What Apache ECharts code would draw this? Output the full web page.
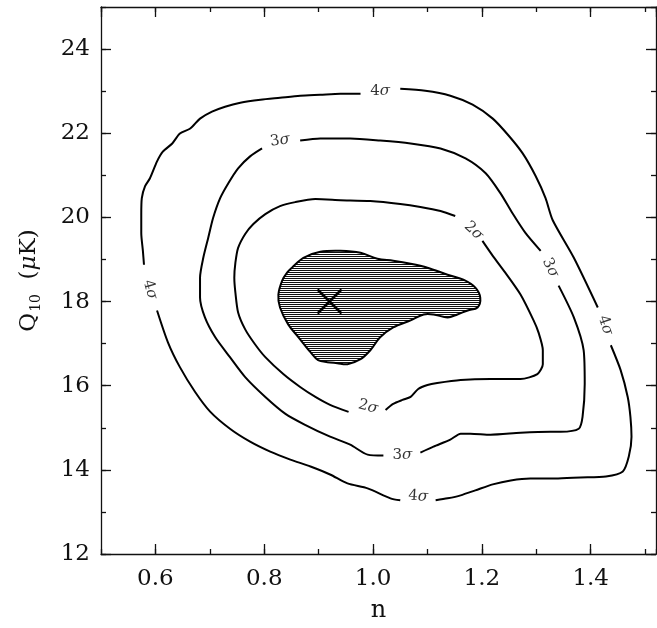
<!DOCTYPE html>
<html>
<head>
<meta charset="utf-8">
<script src="https://cdn.jsdelivr.net/npm/echarts/dist/echarts.min.js"></script>
<style>
  html, body { margin: 0; padding: 0; background: #fff; }
  #chart { width: 657px; height: 628px; }
</style>
</head>
<body>
<div id="chart"></div>
<script>
// Likelihood contours in the (n, Q10) plane.
// Each contour is split into pieces where its sigma label sits.

// 4-sigma contour pieces [n, Q10 (uK)]
const sigma4Top = [[1.050,23.056],[1.096,23.009],[1.142,22.891],[1.183,22.678],[1.220,22.347],[1.249,21.946],[1.275,21.520],[1.299,20.977],[1.317,20.457],[1.330,19.938],[1.369,19.040],[1.413,17.859]];
const sigma4Right = [[1.437,16.961],[1.455,16.370],[1.468,15.733],[1.473,15.260],[1.475,14.788],[1.470,14.315],[1.459,13.961],[1.428,13.843],[1.381,13.819],[1.335,13.795],[1.289,13.795],[1.253,13.748],[1.220,13.654],[1.188,13.512],[1.161,13.394],[1.137,13.323],[1.115,13.276]];
const sigma4Bottom = [[1.050,13.276],[1.032,13.323],[0.990,13.559],[0.953,13.677],[0.921,13.890],[0.885,14.079],[0.848,14.244],[0.811,14.433],[0.774,14.670],[0.737,14.977],[0.701,15.378],[0.673,15.851],[0.645,16.441],[0.623,17.032],[0.603,17.788]];
const sigma4Left = [[0.579,18.875],[0.577,19.205],[0.574,19.631],[0.574,20.056],[0.575,20.457],[0.581,20.741],[0.590,20.930],[0.603,21.331],[0.614,21.568],[0.631,21.757],[0.645,21.993],[0.664,22.111],[0.682,22.347],[0.704,22.513],[0.728,22.631],[0.756,22.725],[0.793,22.796],[0.829,22.843],[0.866,22.891],[0.903,22.914],[0.940,22.938],[0.977,22.938]];

// 3-sigma contour pieces
const sigma3Top = [[0.866,21.827],[0.903,21.875],[0.958,21.875],[1.013,21.827],[1.069,21.757],[1.124,21.639],[1.170,21.402],[1.207,21.048],[1.234,20.576],[1.256,20.103],[1.280,19.631],[1.308,19.205]];
const sigma3Right = [[1.341,18.378],[1.369,17.623],[1.387,16.843],[1.389,16.040],[1.385,15.260],[1.378,14.977],[1.345,14.906],[1.326,14.906],[1.271,14.882],[1.216,14.835],[1.179,14.859],[1.161,14.859],[1.142,14.717],[1.111,14.551],[1.087,14.410]];
const sigma3Left = [[1.019,14.339],[0.990,14.362],[0.958,14.599],[0.921,14.788],[0.875,15.071],[0.839,15.331],[0.802,15.733],[0.765,16.205],[0.737,16.678],[0.710,17.150],[0.691,17.623],[0.682,18.095],[0.682,18.567],[0.688,19.040],[0.697,19.512],[0.706,19.985],[0.719,20.457],[0.734,20.812],[0.752,21.166],[0.774,21.450],[0.796,21.639]];

// 2-sigma contour pieces
const sigma2Left = [[1.151,20.032],[1.124,20.150],[1.087,20.245],[1.050,20.316],[0.995,20.387],[0.940,20.410],[0.894,20.434],[0.857,20.363],[0.829,20.268],[0.802,20.079],[0.780,19.843],[0.765,19.607],[0.752,19.276],[0.747,18.922],[0.745,18.567],[0.747,18.213],[0.752,17.741],[0.765,17.339],[0.783,16.985],[0.802,16.678],[0.835,16.276],[0.866,15.969],[0.894,15.733],[0.921,15.544],[0.955,15.378]];
const sigma2Right = [[1.023,15.425],[1.037,15.567],[1.054,15.662],[1.069,15.733],[1.083,15.922],[1.100,16.016],[1.118,16.063],[1.161,16.134],[1.216,16.158],[1.271,16.158],[1.302,16.276],[1.312,16.512],[1.312,16.843],[1.304,17.268],[1.295,17.552],[1.271,18.166],[1.243,18.686],[1.220,19.087],[1.201,19.442]];

// 1-sigma region outline (filled)
const sigma1N = [0.851,0.872,0.903,0.940,0.977,1.008,1.037,1.069,1.100,1.137,1.166,1.188,1.197,1.192,1.174,1.155,1.137,1.111,1.093,1.069,1.037,1.013,0.995,0.977,0.953,0.934,0.916,0.899,0.885,0.863,0.844,0.829,0.826,0.833,0.842];
const sigma1Q = [18.804,19.040,19.182,19.205,19.158,19.016,18.969,18.898,18.804,18.638,18.520,18.331,18.095,17.859,17.788,17.693,17.623,17.693,17.693,17.552,17.386,17.150,16.843,16.630,16.512,16.536,16.559,16.607,16.796,17.150,17.457,17.859,18.166,18.497,18.686];

// Best-fit point
const bestFit = [[0.92, 18.0]];

// Contour labels: level, position, text angle
const labelLevel = ['4', '4', '4', '4', '3', '3', '3', '2', '2'];
const labelN = [1.013, 0.590, 1.083, 1.427, 0.829, 1.326, 1.054, 1.185, 0.991];
const labelQ = [23.009, 18.284, 13.370, 17.434, 21.827, 18.804, 14.362, 19.678, 15.496];
const labelAngle = [0, -74, -4, -71, 8, -63, 0, -43, -15];

// Axis ranges and tick steps
const nRange = [0.5, 1.52];
const qRange = [12, 25];
const nMinorStep = 0.1;
const qMajorStep = 2;
const qMinorStep = 1;

const FONT = 'DejaVu Serif';
const INK = '#111';

// Horizontal hatching for the 1-sigma fill
const hatchCanvas = document.createElement('canvas');
hatchCanvas.width = 4; hatchCanvas.height = 2;
(function () {
  const ctx = hatchCanvas.getContext('2d');
  ctx.fillStyle = '#fff'; ctx.fillRect(0, 0, 4, 2);
  ctx.fillStyle = '#111'; ctx.fillRect(0, 0, 4, 1);
})();
const hatch = { image: hatchCanvas, repeat: 'repeat' };

function frameAxis(kind, pos, opts) {
  const base = {
    type: 'value', position: pos,
    min: kind === 'x' ? nRange[0] : qRange[0],
    max: kind === 'x' ? nRange[1] : qRange[1],
    axisLine: { show: true, onZero: false, lineStyle: { color: INK, width: 1.3 } },
    axisTick: { show: true, inside: true, length: 10, lineStyle: { color: INK, width: 1.3 } },
    axisLabel: { show: false },
    splitLine: { show: false },
    minorTick: { show: false }
  };
  return Object.assign(base, opts || {});
}

const minorTicks = { show: true, inside: true, length: 5, lineStyle: { color: INK, width: 1.3 } };

const tickLabel = {
  show: true, fontFamily: FONT, fontSize: 23, color: '#111',
  showMinLabel: false, showMaxLabel: false
};

const xAxes = [
  frameAxis('x', 'bottom', {
    splitNumber: 5,
    axisLabel: Object.assign({}, tickLabel, { margin: 14, formatter: v => v.toFixed(1) }),
    name: 'n', nameLocation: 'middle', nameGap: 45,
    nameTextStyle: { fontFamily: FONT, fontSize: 24, color: '#111' }
  }),
  frameAxis('x', 'bottom', { interval: nMinorStep, axisLine: { show: false }, axisTick: minorTicks }),
  frameAxis('x', 'top', { splitNumber: 5 }),
  frameAxis('x', 'top', { interval: nMinorStep, axisLine: { show: false }, axisTick: minorTicks })
];

const yAxes = [
  frameAxis('y', 'left', {
    interval: qMajorStep,
    axisLabel: Object.assign({}, tickLabel, { showMinLabel: true, margin: 11, formatter: v => String(v) }),
    name: '{q|Q}{s|10}  {u|(}{mu|μ}{u|K)}', nameLocation: 'middle', nameGap: 60, nameRotate: 90,
    nameTextStyle: {
      fontFamily: FONT, fontSize: 23, color: '#111',
      rich: {
        q: { fontFamily: FONT, fontSize: 23, color: '#111' },
        s: { fontFamily: FONT, fontSize: 14, color: '#111', verticalAlign: 'bottom', padding: [0, 0, -2, 1] },
        u: { fontFamily: FONT, fontSize: 23, color: '#111' },
        mu: { fontFamily: FONT, fontSize: 23, color: '#111', fontStyle: 'italic' }
      }
    }
  }),
  frameAxis('y', 'left', { interval: qMinorStep, axisLine: { show: false }, axisTick: minorTicks }),
  frameAxis('y', 'right', { interval: qMajorStep }),
  frameAxis('y', 'right', { interval: qMinorStep, axisLine: { show: false }, axisTick: minorTicks })
];

function contourPiece(points) {
  return {
    type: 'line', data: points, xAxisIndex: 0, yAxisIndex: 0,
    symbol: 'none', smooth: 0.25, silent: true, z: 3,
    lineStyle: { color: '#000', width: 2 }
  };
}

const pieces = [sigma4Top, sigma4Right, sigma4Bottom, sigma4Left,
  sigma3Top, sigma3Right, sigma3Left, sigma2Left, sigma2Right];

const series = pieces.map(contourPiece);

// Filled 1-sigma region
series.push({
  type: 'custom', xAxisIndex: 0, yAxisIndex: 0, z: 2, silent: true,
  data: [0],
  renderItem: function (params, api) {
    const pts = sigma1N.map((n, i) => api.coord([n, sigma1Q[i]]));
    return {
      type: 'polygon',
      shape: { points: pts, smooth: 0.35 },
      style: { fill: hatch, stroke: '#000', lineWidth: 2 }
    };
  }
});

// Best-fit cross
series.push({
  type: 'custom', xAxisIndex: 0, yAxisIndex: 0, z: 4, silent: true,
  data: bestFit,
  renderItem: function (params, api) {
    const c = api.coord([api.value(0), api.value(1)]);
    const h = 12;
    const st = { stroke: '#000', lineWidth: 2.6 };
    return {
      type: 'group',
      children: [
        { type: 'line', shape: { x1: c[0] - h, y1: c[1] - h, x2: c[0] + h, y2: c[1] + h }, style: st },
        { type: 'line', shape: { x1: c[0] - h, y1: c[1] + h, x2: c[0] + h, y2: c[1] - h }, style: st }
      ]
    };
  }
});

// Sigma labels on the contours
series.push({
  type: 'scatter', xAxisIndex: 0, yAxisIndex: 0, z: 5, silent: true,
  symbolSize: 0,
  data: labelLevel.map((lv, i) => ({
    name: lv, value: [labelN[i], labelQ[i]],
    label: { rotate: labelAngle[i] }
  })),
  label: {
    show: true, position: 'inside',
    formatter: p => '{d|' + p.name + '}{s|σ}',
    rich: {
      d: { fontFamily: FONT, fontSize: 15, color: '#000' },
      s: { fontFamily: FONT, fontSize: 15, color: '#000', fontStyle: 'italic' }
    }
  }
});

const chart = echarts.init(document.getElementById('chart'), null, { renderer: 'canvas' });
chart.setOption({
  animation: false,
  backgroundColor: '#fff',
  grid: { left: 101, right: 1, top: 7, bottom: 70, containLabel: false },
  xAxis: xAxes,
  yAxis: yAxes,
  series: series
});
</script>
</body>
</html>
